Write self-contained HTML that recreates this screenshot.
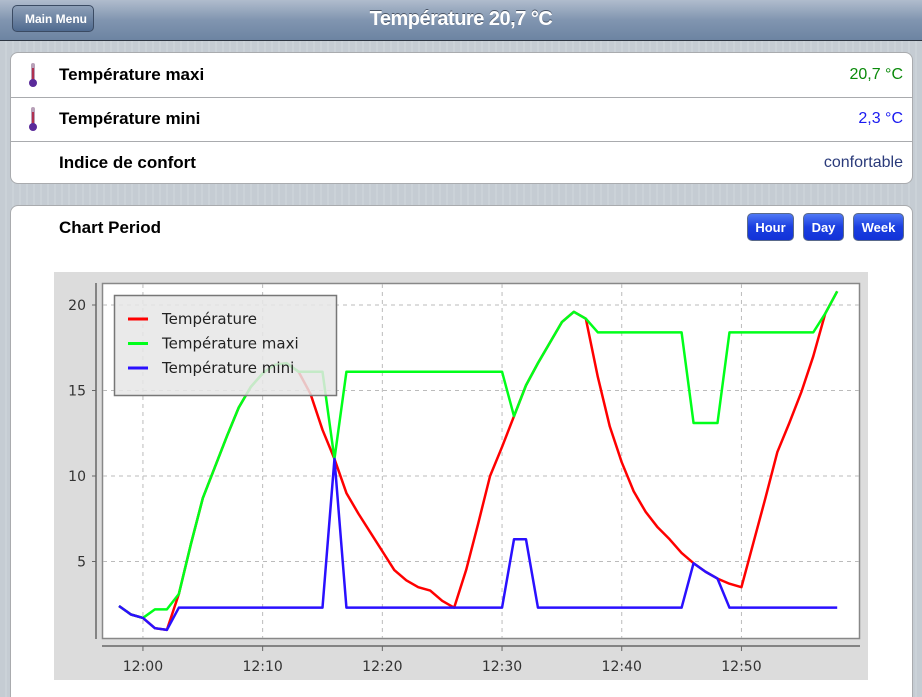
<!DOCTYPE html>
<html><head><meta charset="utf-8">
<style>
html,body{margin:0;padding:0;width:922px;height:697px;overflow:hidden;font-family:"Liberation Sans",sans-serif;}
body{background:repeating-linear-gradient(90deg,#c5ccd3 0 5px,#cbd2d8 5px 7px);position:relative;}
#hdr{position:absolute;left:0;top:0;width:922px;height:40px;background:linear-gradient(#b0bccd,#8195b0 50%,#6d84a2);border-bottom:1px solid #2d3642;}
#title{position:absolute;left:0;right:0;top:8px;text-align:center;color:#fff;font-weight:bold;font-size:20px;text-shadow:0 -1px 0 #4a5566;letter-spacing:-0.5px}
#back{position:absolute;left:12px;top:5px;width:82px;height:27px;background:linear-gradient(#8ea0b8,#4f6a8f);border:1px solid #3b4b63;border-radius:5px;color:#fff;font-weight:bold;font-size:12px;line-height:27px;text-align:center;box-sizing:border-box;padding-left:6px}
.panel{position:absolute;left:10px;width:903px;background:#fff;border:1px solid #a9abae;border-radius:8px;box-sizing:border-box}
.row{position:absolute;left:0;right:0;height:44px;border-bottom:1px solid #a9abae;}
.row .lab{position:absolute;left:48px;top:12px;font-weight:bold;font-size:17px;color:#000}
.row .val{position:absolute;right:9px;top:13px;font-size:16px}
.therm{position:absolute;left:17px;top:9px;width:10px;height:26px}
.btn{position:absolute;top:213px;height:28px;border:1px solid #5a6a8a;border-radius:5px;background:linear-gradient(#4f78f5,#1a3ee0 50%,#1232d8);color:#fff;font-weight:bold;font-size:13px;line-height:28px;text-align:center;box-sizing:border-box}
</style></head><body>
<div id="hdr">
<div id="back">Main Menu</div>
<div id="title">Température 20,7 °C</div>
</div>
<div class="panel" style="top:52px;height:132px">
<div class="row" style="top:0">
<svg class="therm" viewBox="0 0 10 26"><rect x="3" y="1" width="4" height="18" rx="2" fill="#b8a0b8"/><rect x="4" y="6" width="2" height="14" fill="#b03050"/><circle cx="5" cy="21" r="4" fill="#5a2a9a"/></svg>
<div class="lab">Température maxi</div><div class="val" style="color:#0a8a0a">20,7 °C</div></div>
<div class="row" style="top:44px">
<svg class="therm" viewBox="0 0 10 26"><rect x="3" y="1" width="4" height="18" rx="2" fill="#b8a0b8"/><rect x="4" y="6" width="2" height="14" fill="#b03050"/><circle cx="5" cy="21" r="4" fill="#5a2a9a"/></svg>
<div class="lab">Température mini</div><div class="val" style="color:#1a1af0">2,3 °C</div></div>
<div class="row" style="top:88px;border-bottom:none">
<div class="lab">Indice de confort</div><div class="val" style="color:#2a3a7a">confortable</div></div>
</div>
<div class="panel" style="top:205px;height:500px">
<div style="position:absolute;left:48px;top:12px;font-weight:bold;font-size:17px">Chart Period</div>
</div>
<div class="btn" style="left:747px;width:47px">Hour</div>
<div class="btn" style="left:803px;width:41px">Day</div>
<div class="btn" style="left:853px;width:51px">Week</div>
<svg id="chart" style="position:absolute;left:0;top:0" width="922" height="697"></svg>
<script>
const minutes=[];for(let i=0;i<=60;i++)minutes.push(i);
const temperature=[2.4,1.9,1.7,1.1,1.0,3.1,6.0,8.7,10.5,12.3,14.0,15.2,16.0,16.5,16.6,16.1,14.8,12.7,11.0,9.0,7.8,6.7,5.6,4.5,3.9,3.5,3.3,2.7,2.3,4.5,7.2,10.0,11.7,13.5,15.3,16.6,17.8,19.0,19.6,19.2,15.8,12.9,10.8,9.1,7.9,7.0,6.3,5.5,4.9,4.4,4.0,3.7,3.5,6.1,8.7,11.4,13.1,14.9,17.0,19.5,20.8];
const tempMaxi=[2.4,1.9,1.7,2.2,2.2,3.1,6.0,8.7,10.5,12.3,14.0,15.2,16.0,16.5,16.6,16.1,16.1,16.1,11.0,16.1,16.1,16.1,16.1,16.1,16.1,16.1,16.1,16.1,16.1,16.1,16.1,16.1,16.1,13.5,15.3,16.6,17.8,19.0,19.6,19.2,18.4,18.4,18.4,18.4,18.4,18.4,18.4,18.4,13.1,13.1,13.1,18.4,18.4,18.4,18.4,18.4,18.4,18.4,18.4,19.5,20.8];
const tempMini=[2.4,1.9,1.7,1.1,1.0,2.3,2.3,2.3,2.3,2.3,2.3,2.3,2.3,2.3,2.3,2.3,2.3,2.3,11.0,2.3,2.3,2.3,2.3,2.3,2.3,2.3,2.3,2.3,2.3,2.3,2.3,2.3,2.3,6.3,6.3,2.3,2.3,2.3,2.3,2.3,2.3,2.3,2.3,2.3,2.3,2.3,2.3,2.3,4.9,4.4,4.0,2.3,2.3,2.3,2.3,2.3,2.3,2.3,2.3,2.3,2.3];
const yTicks=[5,10,15,20];
const xTickMinutes=[2,12,22,32,42,52];
const xTickLabels=["12:00","12:10","12:20","12:30","12:40","12:50"];
const seriesNames=["Température","Température maxi","Température mini"];
const seriesColors=["#ff0000","#00ff1a","#2a10ff"];

const NS="http://www.w3.org/2000/svg",svg=document.getElementById('chart');
const X=m=>119+m*11.97, Y=v=>647-v*17.1;
function mk(t,a,p){const e=document.createElementNS(NS,t);for(const k in a)e.setAttribute(k,a[k]);(p||svg).appendChild(e);return e;}
const bg=mk('rect',{x:54,y:272,width:814,height:408,fill:'#dcdcdc'});


const plot=mk('rect',{x:102.5,y:283.5,width:757,height:355,fill:'#fff',stroke:'#888','stroke-width':1.5});


mk('line',{x1:96,y1:283,x2:96,y2:639,stroke:'#666','stroke-width':1.5});
mk('line',{x1:102,y1:646,x2:860,y2:646,stroke:'#666','stroke-width':1.5});
yTicks.forEach(v=>{
 mk('line',{x1:103,y1:Y(v),x2:859,y2:Y(v),stroke:'#bbb','stroke-dasharray':'4,4'});
 mk('line',{x1:92,y1:Y(v),x2:96,y2:Y(v),stroke:'#666'});
 const t=mk('text',{x:86,y:Y(v)+5,'text-anchor':'end','font-size':14,fill:'#333','font-family':'DejaVu Sans, sans-serif'});t.textContent=v;
 
 
});
xTickMinutes.forEach((m,i)=>{
 mk('line',{x1:X(m),y1:284,x2:X(m),y2:638,stroke:'#bbb','stroke-dasharray':'4,4'});
 mk('line',{x1:X(m),y1:646,x2:X(m),y2:651,stroke:'#666'});
 const t=mk('text',{x:X(m),y:671,'text-anchor':'middle','font-size':14,fill:'#333','font-family':'DejaVu Sans, sans-serif'});t.textContent=xTickLabels[i];
 
 
});
[temperature,tempMaxi,tempMini].forEach((d,idx)=>{
 const p=mk('polyline',{points:d.map((v,i)=>X(minutes[i])+','+Y(v)).join(' '),fill:'none',stroke:seriesColors[idx],'stroke-width':2.5,'stroke-linejoin':'round'});
 
 
});
const lg=mk('g',{});


mk('rect',{x:114.5,y:295.5,width:222,height:100,fill:'#e6e6e6','fill-opacity':0.85,stroke:'#777','stroke-width':1.5},lg);
seriesNames.forEach((n,i)=>{
 const y=319+i*24.5;
 const l=mk('line',{x1:128,y1:y,x2:148,y2:y,stroke:seriesColors[i],'stroke-width':3},lg);
 
 
 const t=mk('text',{x:162,y:y+5,'font-size':15,fill:'#222','font-family':'DejaVu Sans, sans-serif'},lg);t.textContent=n;
 
 
});
</script>
</body></html>
